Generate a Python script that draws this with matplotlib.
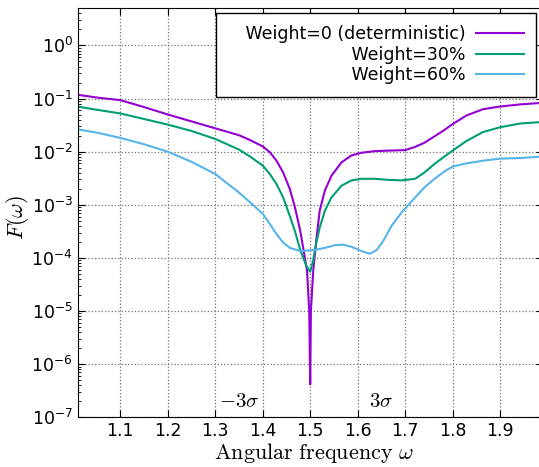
import numpy as np
import matplotlib
matplotlib.use("Agg")
import matplotlib.pyplot as plt
from matplotlib.ticker import LogLocator, FixedLocator

# values, stored as log10(F)
x_det = [1.010, 1.019, 1.05, 1.10, 1.15, 1.20, 1.25, 1.30, 1.35, 1.373, 1.40, 1.415,
         1.429, 1.443, 1.457, 1.468, 1.479, 1.486, 1.4935, 1.498, 1.500, 1.5015, 1.5063,
         1.5126, 1.520, 1.531, 1.545, 1.566, 1.587, 1.608, 1.636, 1.664, 1.700, 1.721,
         1.741, 1.762, 1.783, 1.800, 1.829, 1.864, 1.900, 1.942, 1.990]
lg_det = [-0.93, -0.94, -0.98, -1.03, -1.16, -1.30, -1.43, -1.56, -1.69, -1.78, -1.90, -2.01,
          -2.17, -2.39, -2.70, -3.05, -3.49, -3.85, -4.25, -5.00, -6.38, -5.00, -4.25,
          -3.68, -3.11, -2.73, -2.45, -2.20, -2.07, -2.02, -1.99, -1.98, -1.97, -1.91,
          -1.83, -1.71, -1.59, -1.48, -1.32, -1.20, -1.15, -1.11, -1.08]

x_30 = [1.010, 1.05, 1.10, 1.20, 1.25, 1.30, 1.35, 1.373, 1.40, 1.415, 1.429, 1.443,
        1.457, 1.468, 1.479, 1.492, 1.500, 1.506, 1.513, 1.520, 1.531, 1.545, 1.566,
        1.587, 1.608, 1.636, 1.664, 1.692, 1.721, 1.741, 1.762, 1.783, 1.800, 1.829,
        1.864, 1.900, 1.942, 1.990]
lg_30 = [-1.15, -1.21, -1.28, -1.49, -1.61, -1.76, -1.96, -2.09, -2.26, -2.42, -2.61, -2.86,
         -3.21, -3.50, -3.85, -4.15, -4.26, -4.06, -3.71, -3.43, -3.11, -2.86, -2.64,
         -2.54, -2.51, -2.51, -2.53, -2.54, -2.51, -2.39, -2.23, -2.09, -1.98, -1.80,
         -1.63, -1.54, -1.47, -1.44]

x_60 = [1.010, 1.05, 1.10, 1.15, 1.20, 1.25, 1.30, 1.35, 1.373, 1.40, 1.415, 1.429,
        1.443, 1.457, 1.479, 1.510, 1.531, 1.552, 1.569, 1.587, 1.608, 1.626, 1.640,
        1.654, 1.671, 1.692, 1.713, 1.741, 1.762, 1.783, 1.800, 1.829, 1.864, 1.900,
        1.942, 1.990]
lg_60 = [-1.58, -1.64, -1.74, -1.86, -2.00, -2.19, -2.42, -2.77, -2.95, -3.17, -3.36, -3.55,
         -3.71, -3.81, -3.87, -3.85, -3.81, -3.76, -3.75, -3.79, -3.87, -3.92, -3.85,
         -3.68, -3.40, -3.15, -2.94, -2.67, -2.51, -2.37, -2.28, -2.22, -2.17, -2.13,
         -2.12, -2.09]

labels = ["Weight=0 (deterministic)", "Weight=30%", "Weight=60%"]
colors = ["#9400d3", "#009e73", "#56b4e9"]
x_ticks = [1.1, 1.2, 1.3, 1.4, 1.5, 1.6, 1.7, 1.8, 1.9]

plt.rcParams["mathtext.fontset"] = "cm"
plt.rcParams["font.size"] = 12.5

fig = plt.figure(figsize=(5.39, 4.67), dpi=100)
ax = fig.add_axes([0.144, 0.1064, 0.863, 0.8758])

for xs, lg, lab, c in zip([x_det, x_30, x_60], [lg_det, lg_30, lg_60], labels, colors):
    # leading spaces widen the legend box on the left like the original
    ax.plot(xs, 10.0 ** np.array(lg), color=c, lw=1.5, label="   " + lab)

ax.set_yscale("log")
ax.set_xlim(1.01, 1.99)
ax.set_ylim(1e-7, 5)
ax.xaxis.set_major_locator(FixedLocator(x_ticks))
ax.yaxis.set_major_locator(FixedLocator([10.0 ** k for k in range(-7, 1)]))
ax.yaxis.set_minor_locator(LogLocator(base=10, subs=np.arange(2, 10), numticks=20))
ax.tick_params(which="both", direction="in", top=True, right=True)
ax.tick_params(which="major", length=5)
ax.tick_params(which="minor", length=2.5)
ax.grid(True, which="major", linestyle=":", color="0.45", lw=0.9)

ax.text(1.35, 2.0e-7, r"$-3\sigma$", ha="center", va="center", fontsize=15)
ax.text(1.65, 2.0e-7, r"$3\sigma$", ha="center", va="center", fontsize=15)

ax.set_xlabel(r"$\mathrm{Angular\ frequency}\ \omega$", fontsize=16)
ax.set_ylabel(r"$F(\omega)$", fontsize=16)
ax.xaxis.set_label_coords(0.508, -0.058)
ax.yaxis.set_label_coords(-0.10, 0.49)

leg = ax.legend(loc="upper right", bbox_to_anchor=(536 / 539, 1 - 13 / 467),
                bbox_transform=fig.transFigure, markerfirst=False, fancybox=False,
                handlelength=2.75, handletextpad=0.63, labelspacing=0.15,
                borderpad=0.7, borderaxespad=0)
leg.get_frame().set_edgecolor("black")
leg.get_frame().set_linewidth(1.0)
leg.get_frame().set_alpha(1)

fig.savefig("out.png", dpi=100)
